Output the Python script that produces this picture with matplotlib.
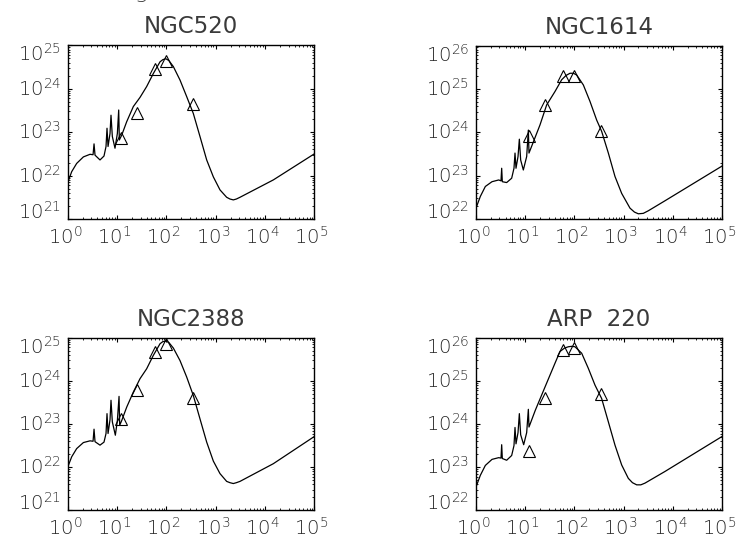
import matplotlib

matplotlib.use("Agg")
import matplotlib.pyplot as plt
import matplotlib.transforms as mtransforms
import numpy as np
from matplotlib.ticker import LogLocator, NullFormatter

plt.rcParams["font.family"] = ["DejaVu Sans"]
plt.rcParams["font.weight"] = "light"
plt.rcParams["mathtext.fontset"] = "dejavusans"

TEXT_COLOR = "#262626"

# photometry wavelengths (micron), same for all galaxies
phot_wave = [12, 25, 60, 100, 350]

# NGC520 : model curve, log10 values
ngc520_logw = [0.000, 0.081, 0.182, 0.318, 0.453, 0.514, 0.534, 0.554, 0.655, 0.736,
               0.777, 0.797, 0.818, 0.858, 0.878, 0.905, 0.959, 1.007, 1.034, 1.047,
               1.095, 1.196, 1.331, 1.466, 1.601, 1.736, 1.872, 1.930, 1.990, 2.050,
               2.142, 2.277, 2.412, 2.547, 2.682, 2.818, 2.953, 3.088, 3.223, 3.290,
               3.358, 3.420, 3.493, 4.169, 5.000]
ngc520_logl = [21.84, 22.09, 22.28, 22.43, 22.49, 22.48, 22.73, 22.47, 22.36, 22.45,
               22.67, 23.09, 22.67, 22.97, 23.39, 22.90, 22.63, 22.97, 23.51, 22.82,
               22.93, 23.24, 23.59, 23.80, 24.05, 24.35, 24.62, 24.67, 24.69, 24.65,
               24.51, 24.20, 23.82, 23.43, 22.90, 22.36, 21.97, 21.67, 21.50, 21.46,
               21.44, 21.46, 21.50, 21.90, 22.50]
ngc520_phot = [22.86, 23.45, 24.45, 24.63, 23.65]

# NGC1614
ngc1614_logw = [0.000, 0.088, 0.190, 0.325, 0.461, 0.508, 0.522, 0.535, 0.623, 0.725,
                0.772, 0.793, 0.813, 0.854, 0.881, 0.908, 0.962, 1.030, 1.064, 1.077,
                1.301, 1.436, 1.606, 1.741, 1.830, 1.911, 1.980, 2.046, 2.182, 2.317,
                2.453, 2.554, 2.690, 2.825, 2.961, 3.130, 3.220, 3.299, 3.400, 3.503,
                3.841, 5.000]
ngc1614_logl = [22.25, 22.52, 22.75, 22.86, 22.90, 22.88, 23.17, 22.86, 22.84, 22.94,
                23.17, 23.52, 23.17, 23.44, 23.84, 23.36, 23.13, 23.44, 24.05, 23.52,
                24.17, 24.63, 24.94, 25.21, 25.31, 25.36, 25.36, 25.32, 25.09, 24.71,
                24.28, 24.02, 23.52, 22.98, 22.59, 22.25, 22.16, 22.12, 22.13, 22.19,
                22.42, 23.22]
ngc1614_phot = [23.92, 24.63, 25.30, 25.30, 24.04]

# NGC2388
ngc2388_logw = [0.000, 0.081, 0.182, 0.318, 0.453, 0.514, 0.534, 0.554, 0.655, 0.736,
                0.777, 0.797, 0.818, 0.858, 0.878, 0.905, 0.966, 1.007, 1.041, 1.054,
                1.095, 1.196, 1.331, 1.466, 1.601, 1.736, 1.872, 1.930, 1.990, 2.050,
                2.142, 2.277, 2.412, 2.547, 2.682, 2.818, 2.953, 3.088, 3.223, 3.290,
                3.358, 3.420, 3.493, 4.169, 5.000]
ngc2388_logl = [22.00, 22.24, 22.43, 22.57, 22.61, 22.60, 22.88, 22.59, 22.51, 22.58,
                22.78, 23.24, 22.78, 23.10, 23.55, 23.05, 22.74, 23.08, 23.64, 22.97,
                23.08, 23.39, 23.74, 24.05, 24.28, 24.59, 24.86, 24.91, 24.92, 24.89,
                24.76, 24.47, 24.09, 23.66, 23.12, 22.58, 22.14, 21.85, 21.67, 21.64,
                21.62, 21.64, 21.67, 22.08, 22.71]
ngc2388_phot = [23.11, 23.78, 24.67, 24.85, 23.60]

# ARP 220
arp220_logw = [0.000, 0.088, 0.190, 0.325, 0.461, 0.508, 0.522, 0.535, 0.623, 0.725,
               0.772, 0.793, 0.813, 0.854, 0.881, 0.908, 0.969, 1.030, 1.064, 1.077,
               1.206, 1.389, 1.606, 1.707, 1.800, 1.877, 1.945, 2.012, 2.148, 2.283,
               2.419, 2.554, 2.690, 2.825, 2.961, 3.096, 3.180, 3.266, 3.350, 3.435,
               3.841, 5.000]
arp220_logl = [22.54, 22.81, 23.04, 23.18, 23.22, 23.21, 23.52, 23.20, 23.16, 23.27,
               23.50, 23.92, 23.54, 23.80, 24.24, 23.75, 23.52, 23.80, 24.34, 23.93,
               24.32, 24.82, 25.41, 25.68, 25.76, 25.79, 25.80, 25.79, 25.64, 25.29,
               24.90, 24.59, 24.05, 23.51, 23.05, 22.74, 22.64, 22.59, 22.59, 22.63,
               22.90, 23.71]
arp220_phot = [23.37, 24.60, 25.72, 25.76, 24.70]

titles = ["NGC520", "NGC1614", "NGC2388", "ARP  220"]
y_decades = [(21, 25), (22, 26), (21, 25), (22, 26)]

# axes boxes in pixels: left, top, right, bottom
FIG_W, FIG_H = 744, 544
boxes = [
    (67.7, 45.3, 314.3, 219.0),
    (476.0, 45.5, 722.0, 219.0),
    (67.7, 337.7, 314.3, 510.3),
    (476.0, 337.7, 722.0, 510.3),
]


def _nudge(fig, label, dx_px, dy_px):
    off = mtransforms.ScaledTranslation(dx_px / fig.dpi, dy_px / fig.dpi,
                                        fig.dpi_scale_trans)
    label.set_transform(label.get_transform() + off)


def draw_panel(fig, ax, title, logw, logl, phot, decades):
    ax.plot(np.power(10.0, logw), np.power(10.0, logl), color="black", lw=0.9)
    ax.plot(phot_wave, np.power(10.0, phot), ls="none", marker="^", ms=8,
            mfc="none", mec="black", mew=0.8)

    ax.set_xscale("log")
    ax.set_yscale("log")
    ax.set_xlim(1, 1e5)
    ax.set_ylim(10.0 ** decades[0], 10.0 ** decades[1])

    ax.tick_params(which="both", direction="in", top=True, right=True,
                   colors="black", labelcolor=TEXT_COLOR, labelsize=14, pad=5.0)
    ax.tick_params(which="major", length=3.2, width=0.8)
    ax.tick_params(which="minor", length=1.6, width=0.6)

    xt = np.arange(0, 6)
    ax.set_xticks(10.0 ** xt)
    ax.set_xticklabels([r"$\mathregular{10^{%d}}$" % e for e in xt])
    yt = np.arange(decades[0], decades[1] + 1)
    ax.set_yticks(10.0 ** yt)
    ax.set_yticklabels([r"$\mathregular{10^{%d}}$" % e for e in yt])

    ax.xaxis.set_minor_locator(LogLocator(base=10, subs=np.arange(2, 10), numticks=20))
    ax.yaxis.set_minor_locator(LogLocator(base=10, subs=np.arange(2, 10), numticks=20))
    ax.xaxis.set_minor_formatter(NullFormatter())
    ax.yaxis.set_minor_formatter(NullFormatter())

    # IDL puts the "10" on the tick; the end labels are pushed inwards
    ylabels = ax.get_yticklabels()
    for lab in ylabels:
        _nudge(fig, lab, 0, 2)
    _nudge(fig, ylabels[0], 0, 7)
    _nudge(fig, ylabels[-1], 0, -9)
    for lab in ax.get_xticklabels():
        _nudge(fig, lab, -3, 0)

    for sp in ax.spines.values():
        sp.set_linewidth(1.0)

    ax.set_title(title, fontsize=16.5, pad=8.5, color="#3a3a3a")


fig = plt.figure(figsize=(FIG_W / 100, FIG_H / 100), dpi=100)

curves = [
    (ngc520_logw, ngc520_logl, ngc520_phot),
    (ngc1614_logw, ngc1614_logl, ngc1614_phot),
    (ngc2388_logw, ngc2388_logl, ngc2388_phot),
    (arp220_logw, arp220_logl, arp220_phot),
]

for (left, top, right, bottom), title, (lw_, ll_, ph_), dec in zip(boxes, titles, curves, y_decades):
    ax = fig.add_axes([left / FIG_W, 1 - bottom / FIG_H,
                       (right - left) / FIG_W, (bottom - top) / FIG_H])
    draw_panel(fig, ax, title, lw_, ll_, ph_, dec)

# descender of a title cut off above the figure
fig.text(141 / FIG_W, 1 + 1.5 / FIG_H, "g", fontsize=16, ha="center", va="baseline",
         color="#3a3a3a")

fig.savefig("out.png", dpi=100)
